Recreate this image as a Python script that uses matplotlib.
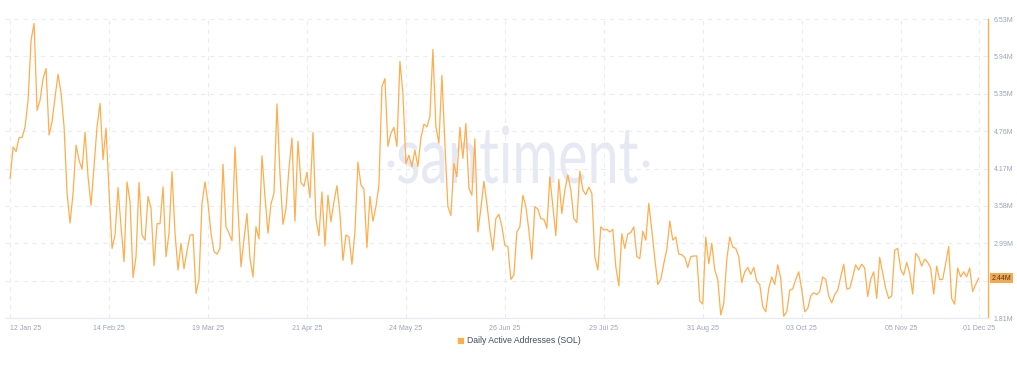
import matplotlib.pyplot as plt
import matplotlib.transforms as mtransforms
from matplotlib.textpath import TextPath
from matplotlib.patches import PathPatch, Circle
from matplotlib.font_manager import FontProperties
import pandas as pd

# daily active addresses (SOL), millions, one value per day from start_date
start_date = '2025-01-12'
active_addresses = [
    4.01, 4.51, 4.44, 4.66, 4.66, 4.83, 5.25, 6.20, 6.46, 5.09,
    5.25, 5.59, 5.75, 4.70, 4.91, 5.30, 5.66, 5.36, 4.83, 3.78,
    3.31, 3.78, 4.54, 4.30, 4.16, 4.74, 4.04, 3.59, 4.20, 4.83,
    5.20, 4.31, 4.81, 3.80, 2.91, 3.12, 3.87, 3.25, 2.70, 3.96,
    3.65, 2.45, 2.78, 3.95, 3.12, 3.04, 3.73, 3.54, 2.64, 3.30,
    3.30, 3.88, 2.78, 3.15, 4.12, 3.15, 2.57, 2.99, 2.59, 2.87,
    3.12, 3.13, 2.20, 2.42, 3.62, 3.96, 3.62, 3.15, 2.86, 2.82,
    2.91, 4.24, 3.25, 3.15, 3.03, 4.51, 3.54, 2.62, 3.05, 3.46,
    2.75, 2.46, 3.25, 3.06, 4.37, 3.73, 3.15, 3.61, 3.78, 5.19,
    4.09, 3.29, 3.53, 4.17, 4.65, 3.34, 4.60, 3.95,
    3.89, 4.11, 3.71, 4.74, 3.38, 3.11, 3.80, 2.95, 3.75, 3.33,
    3.65, 3.90, 3.46, 2.72, 3.12, 3.09, 2.66, 3.17, 4.27, 3.91,
    3.85, 2.92, 3.73, 3.34, 3.57, 3.91, 5.46, 5.59, 4.52, 4.73,
    4.82, 4.52, 5.86, 5.36, 4.25, 4.38, 4.20, 4.46, 4.20, 4.65,
    4.87,
    4.83, 4.99, 6.05, 4.83, 4.57, 5.64, 4.57, 3.57, 3.43, 4.25,
    4.04, 4.82, 4.33, 4.88, 3.86, 3.75, 4.64, 3.17, 3.54, 3.97,
    3.62, 3.20, 2.88, 3.38, 3.45, 3.26, 2.96, 2.94, 2.42, 2.49,
    3.17, 3.25, 3.75, 3.57, 3.20, 2.74, 3.57, 3.53, 3.38, 3.37,
    3.23, 4.04, 3.57, 3.11, 4.00, 3.46, 3.83,
    4.07, 3.83, 3.38, 3.32, 4.13, 3.83, 3.76, 3.88, 3.78, 2.78,
    2.57, 3.25, 3.20, 3.21, 3.17, 3.21, 2.62, 2.32, 3.14, 2.91,
    3.14, 3.16, 3.25, 2.78, 2.75, 3.18, 3.04, 3.62, 3.20, 2.75,
    2.34, 2.42, 2.67, 2.89, 3.34, 3.04, 3.09, 2.82, 2.81, 2.77,
    2.61, 2.78, 2.79, 2.79, 2.08, 2.03, 3.09,
    2.67, 2.99, 2.57, 2.42, 1.86, 2.04, 2.73, 3.09, 2.93, 2.91,
    2.78, 2.37, 2.54, 2.61, 2.50, 2.61, 2.39, 2.34, 1.99, 1.91,
    2.28, 2.46, 2.34, 2.65, 2.44, 1.84, 1.91, 2.25, 2.27, 2.42,
    2.54, 2.26, 1.91, 1.96, 2.16, 2.21, 2.18, 2.23, 2.46, 2.42,
    2.16, 2.05, 2.18, 2.25, 2.46, 2.66, 2.27,
    2.28, 2.46, 2.65, 2.57, 2.66, 2.60, 2.15, 2.42, 2.54, 2.12,
    2.77, 2.52, 2.28, 2.12, 2.16, 2.88, 2.91, 2.58, 2.49, 2.69,
    2.52, 2.19, 2.83, 2.77, 2.63, 2.74, 2.69, 2.60, 2.19, 2.63,
    2.42, 2.42, 2.67, 2.94, 2.12, 2.03, 2.60, 2.46, 2.54, 2.46,
    2.60, 2.23, 2.34, 2.44,
]
y_ticks = [1.81, 2.40, 2.99, 3.58, 4.17, 4.76, 5.35, 5.94, 6.53]
x_tick_dates = ['2025-01-12', '2025-02-14', '2025-03-19', '2025-04-21',
                '2025-05-24', '2025-06-26', '2025-07-29', '2025-08-31',
                '2025-10-03', '2025-11-05', '2025-12-01']
x_tick_labels = ['12 Jan 25', '14 Feb 25', '19 Mar 25', '21 Apr 25',
                 '24 May 25', '26 Jun 25', '29 Jul 25', '31 Aug 25',
                 '03 Oct 25', '05 Nov 25', '01 Dec 25']
series_name = 'Daily Active Addresses (SOL)'

orange = '#ffad4d'
label_grey = '#9ca2b8'
font = ['Liberation Sans Narrow', 'Liberation Sans', 'DejaVu Sans']
plt.rcParams['font.family'] = font

dates = pd.date_range(start_date, periods=len(active_addresses), freq='D')
last = active_addresses[-1]

fig = plt.figure(figsize=(10.17, 3.69), dpi=100)
ax = fig.add_axes([0.005, 0.138, 0.9665, 0.8103])

ax.plot(dates, active_addresses, color=orange, lw=0.9, zorder=3)
ax.set_xlim(pd.Timestamp('2025-01-10 08:00'), pd.Timestamp('2025-12-04 03:00'))
ax.set_ylim(y_ticks[0], y_ticks[-1])

ax.yaxis.tick_right()
ax.set_yticks(y_ticks)
# the tick label right under the last-value badge is hidden by it
ax.set_yticklabels(['' if abs(v - last) < 0.1 else f'{v:.2f}M' for v in y_ticks])
ax.set_xticks(pd.to_datetime(x_tick_dates))
ax.set_xticklabels(x_tick_labels)
ax.get_xticklabels()[0].set_ha('left')
ax.tick_params(axis='both', length=0, labelsize=5, labelcolor=label_grey)
ax.tick_params(axis='x', pad=5)
ax.tick_params(axis='y', pad=4)
ax.grid(True, ls=(0, (4, 4)), color='#ebecf1', lw=0.8, zorder=0)

for s in ['top', 'left']:
    ax.spines[s].set_visible(False)
ax.spines['right'].set_color(orange)
ax.spines['right'].set_linewidth(1.0)
ax.spines['bottom'].set_color('#e9eaf0')

# last value badge on the right axis
ax.text(1.004, last, f'{last:.2f}M',
        transform=ax.get_yaxis_transform(), ha='left', va='center',
        fontsize=5, color='#3b3b3b', zorder=5,
        bbox=dict(boxstyle='square,pad=0.25', fc='#f7a84a', ec='none'))

# watermark, squeezed horizontally like the source
tp = TextPath((0, 0), 'santiment', size=100, prop=FontProperties(family='Lato'))
xh = TextPath((0, 0), 'x', size=100, prop=FontProperties(family='Lato')).get_extents().height
ext = tp.get_extents()
tr = mtransforms.Affine2D().translate(-ext.x0, 0).scale(240 / ext.width, 40 / xh).translate(398, 186)
wm = '#e6e9f3'
ax.add_artist(PathPatch(tp, transform=tr, fc=wm, ec='none', zorder=1))
for cx in [391, 646]:
    ax.add_artist(Circle((cx, 205), 3.5, transform=mtransforms.IdentityTransform(),
                         fc=wm, ec='none', zorder=1))

# legend
fig.text(0.4525, 0.076, '\u25a0', color=orange, fontsize=6, ha='center', va='center',
         family='DejaVu Sans')
fig.text(0.459, 0.076, series_name, color='#474b5c', fontsize=6.2, ha='left', va='center')

fig.savefig('out.png', dpi=100)
